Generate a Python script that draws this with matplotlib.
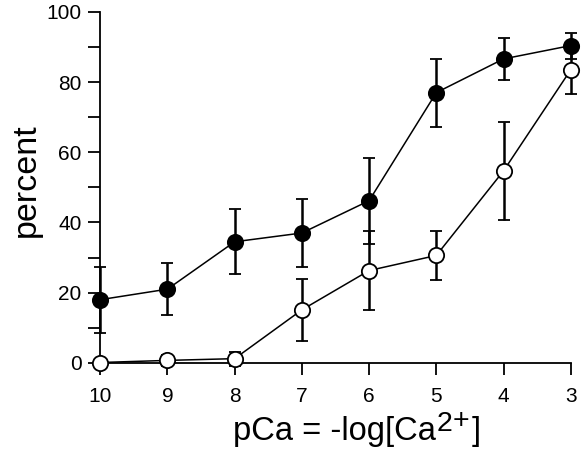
import matplotlib
matplotlib.use("Agg")
import matplotlib.pyplot as plt
from matplotlib.ticker import MultipleLocator

plt.rcParams['font.family'] = ['Liberation Sans', 'DejaVu Sans']

pca = [10, 9, 8, 7, 6, 5, 4, 3]
filled_vals = [18.0, 21.0, 34.5, 37.0, 46.2, 77.0, 86.6, 90.4]
filled_err = [9.4, 7.5, 9.2, 9.7, 12.2, 9.7, 6.0, 3.7]
open_vals = [0.1, 0.7, 1.2, 15.1, 26.3, 30.6, 54.7, 83.5]
open_err = [0.5, 1.5, 2.0, 8.8, 11.2, 7.0, 13.9, 7.0]

fig = plt.figure(figsize=(5.86, 4.57), dpi=100)
ax = fig.add_axes([0.171, 0.206, 0.803, 0.768])

common = dict(color='black', lw=1.1, elinewidth=1.8, capsize=4, capthick=1.8,
              ms=11, mew=1.3, mec='black', clip_on=False)
ax.errorbar(pca, open_vals, yerr=open_err, fmt='-o', mfc='white', zorder=3, **common)
ax.errorbar(pca, filled_vals, yerr=filled_err, fmt='-o', mfc='black', zorder=4, **common)

ax.set_xlim(10, 3)
ax.set_ylim(0, 100)
ax.set_xticks(pca)
ax.set_xticklabels([str(v) for v in pca])
ax.set_yticks([0, 20, 40, 60, 80, 100])
ax.yaxis.set_minor_locator(MultipleLocator(10))

for s in ['top', 'right']:
    ax.spines[s].set_visible(False)
for s in ['left', 'bottom']:
    ax.spines[s].set_linewidth(1.3)

ax.tick_params(axis='both', which='both', direction='out', length=8.5, width=1.3,
               labelsize=15)
ax.tick_params(axis='x', pad=9)
ax.tick_params(axis='y', pad=5)

# x label built from pieces: main text, large superscript, closing bracket
base_y = 17 / 457
t1 = fig.text(233 / 586, base_y, 'pCa = -log[Ca', fontsize=23.5,
              ha='left', va='baseline')
t2 = ax.annotate('2', xy=(1, base_y), xycoords=(t1, 'figure fraction'),
                 xytext=(1, 9), textcoords='offset pixels', fontsize=20.5,
                 ha='left', va='baseline', annotation_clip=False)
t2b = ax.annotate('+', xy=(1, base_y), xycoords=(t2, 'figure fraction'),
                  xytext=(0, 12), textcoords='offset pixels', fontsize=20.5,
                  ha='left', va='baseline', annotation_clip=False)
t3 = ax.annotate(']', xy=(1, base_y), xycoords=(t2b, 'figure fraction'),
                 xytext=(2, 0), textcoords='offset pixels', fontsize=23.5,
                 ha='left', va='baseline', annotation_clip=False)

ax.set_ylabel('percent', fontsize=24.5)
ax.yaxis.set_label_coords(-0.123, 0.521)

fig.savefig('out.png', dpi=100)
